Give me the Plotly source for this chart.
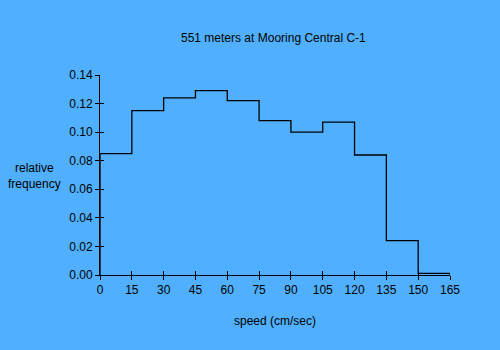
import plotly.graph_objects as go

# Speed bins (cm/sec) and relative frequency per bin
bin_edges = [0, 15, 30, 45, 60, 75, 90, 105, 120, 135, 150, 165]
rel_freq = [0.085, 0.115, 0.124, 0.129, 0.122, 0.108, 0.100, 0.107, 0.084, 0.024, 0.0012]

x_ticks = [0, 15, 30, 45, 60, 75, 90, 105, 120, 135, 150, 165]
y_ticks = [0.00, 0.02, 0.04, 0.06, 0.08, 0.10, 0.12, 0.14]
y_tick_text = [f"{v:.2f}" for v in y_ticks]

title_text = "551 meters at Mooring Central C-1"
x_title = "speed (cm/sec)"
y_title = "relative<br>frequency"

BG = "rgb(80,176,255)"
FONT = "Liberation Sans, Arial, sans-serif"
TXT = dict(family=FONT, size=12, color="black")

# Plot area in pixels: left 100, right 450, top 75, bottom 275
PW, PH = 350, 200

# Closed step outline: up from zero at the first edge, down to zero at the last
step_x = [bin_edges[0]] + bin_edges + [bin_edges[-1]]
step_y = [0] + rel_freq + [rel_freq[-1], 0]

fig = go.Figure()
fig.add_trace(go.Scatter(
    x=step_x, y=step_y, mode="lines",
    line=dict(shape="hv", color="black", width=1.3),
    hoverinfo="skip", showlegend=False,
))

x_range = [bin_edges[0], bin_edges[-1]]
y_range = [0, 0.14]

common = dict(showgrid=False, zeroline=False, ticklen=4, tickwidth=1,
              tickcolor="black", tickfont=TXT)


def px_annot(text, px_x, px_y):
    return dict(text=text, xref="paper", yref="paper",
                x=(px_x - 100) / PW, y=(275 - px_y) / PH,
                xanchor="center", yanchor="middle", showarrow=False,
                align="center", font=TXT)


annotations = [
    px_annot(title_text, 273.5, 38),
    px_annot(x_title, 275, 321),
    px_annot(y_title, 34, 176),
]

fig.update_layout(
    width=500, height=350,
    margin=dict(l=100, r=50, t=75, b=75),
    paper_bgcolor=BG, plot_bgcolor=BG,
    font=TXT,
    xaxis=dict(range=x_range, tickvals=x_ticks, ticks="outside",
               showline=True, linecolor="black", linewidth=1, **common),
    yaxis=dict(range=y_range, tickvals=y_ticks, ticktext=y_tick_text, ticks="outside",
               showline=True, linecolor="black", linewidth=1, **common),
    # Overlaid axes carry inward ticks so tick marks cross the axis lines
    xaxis2=dict(range=x_range, tickvals=x_ticks, ticks="inside", overlaying="x",
                anchor="y", side="bottom", showticklabels=False, showline=False, **common),
    yaxis2=dict(range=y_range, tickvals=y_ticks, ticks="inside", overlaying="y",
                anchor="x", side="left", showticklabels=False, showline=False, **common),
    annotations=annotations,
)

# Invisible trace so the overlaid axes are rendered
fig.add_trace(go.Scatter(x=[None], y=[None], xaxis="x2", yaxis="y2",
                         showlegend=False, hoverinfo="skip"))

fig.write_html("out.html")
